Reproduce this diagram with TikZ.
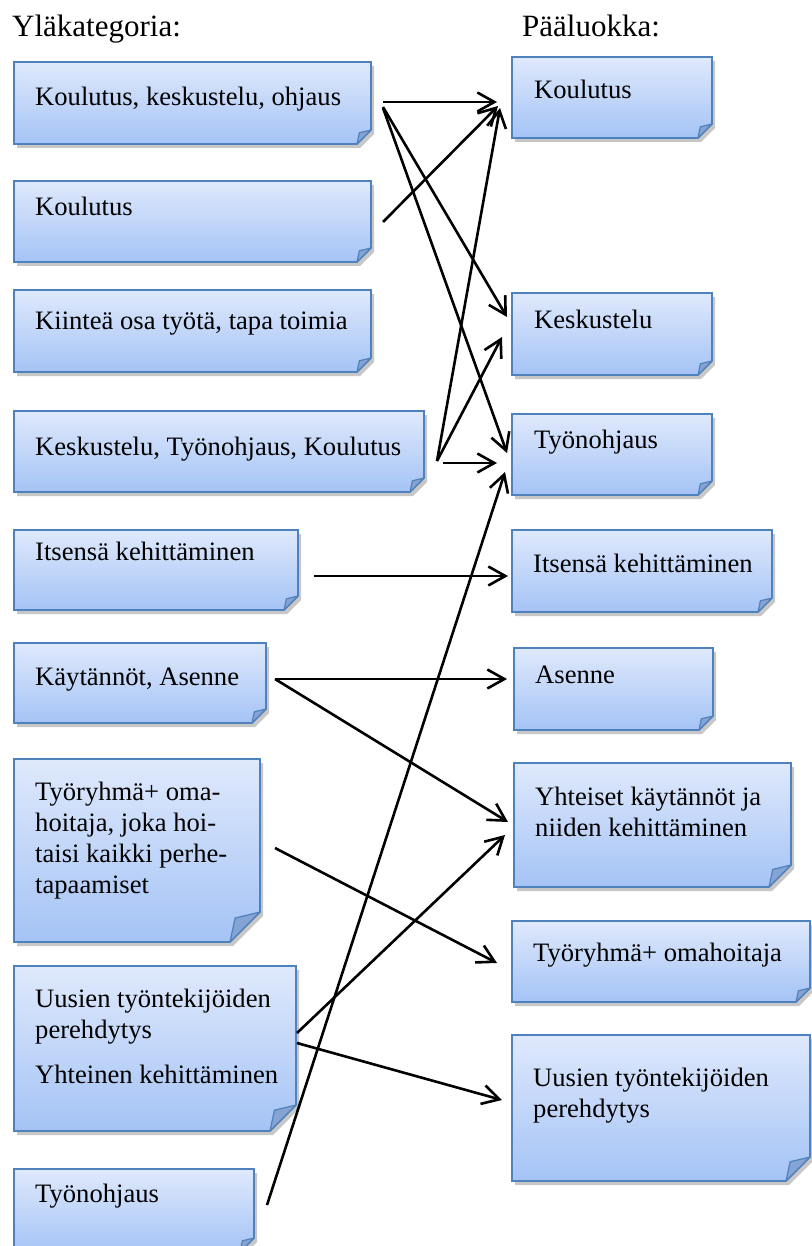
\documentclass[tikz,border=0pt]{standalone}
\usepackage{fontspec}
\setmainfont{Liberation Serif}[Ligatures=TeX]
\usetikzlibrary{arrows.meta,calc}
\definecolor{boxtop}{RGB}{223,233,252}
\definecolor{boxbot}{RGB}{164,195,245}
\definecolor{boxline}{RGB}{79,129,189}
\definecolor{flapc}{RGB}{133,163,211}
\newcommand\bxfont{\fontsize{26.6}{31}\selectfont}
\newcommand\hdfont{\fontsize{31}{35}\selectfont}
\tikzset{
  arr/.style={line width=2.6pt, -{Straight Barb[length=17pt,width=19pt]}},
  area/.style={inner sep=0pt, outer sep=0pt, draw=none},
  lbl/.style={inner sep=0pt, anchor=west, font=\bxfont, text height=17pt, text depth=6pt},
  mlbl/.style={inner sep=0pt, anchor=north west, font=\bxfont, align=left},
  hdr/.style={inner sep=0pt, anchor=west, font=\hdfont, text height=22pt, text depth=7pt},
  notefill/.style={top color=boxtop, bottom color=boxbot, draw=boxline, line width=1.6pt},
  noteshadow/.style={fill=black, opacity=0.22},
  flap/.style={fill=flapc, draw=boxline, line width=1.2pt, line join=round},
}
% name, cx, cy, w, h, fold
\newcommand\notebox[6]{%
  \node[area, minimum width=#4pt, minimum height=#5pt] (#1) at (#2,#3) {};
  \fill[noteshadow] ($(#1.north west)+(3,4)$) -- ($(#1.north east)+(3,4)$)
    -- ($(#1.south east)+(3,4-#6)$) -- ($(#1.south east)+(3-#6,4)$)
    -- ($(#1.south west)+(3,4)$) -- cycle;
  \shadedraw[notefill] (#1.north west) -- (#1.north east)
    -- ($(#1.south east)+(0,-#6)$) -- ($(#1.south east)+(-#6,0)$)
    -- (#1.south west) -- cycle;
  \filldraw[flap] ($(#1.south east)+(0,-#6)$)
    -- ($(#1.south east)+(-0.83*#6,-0.8*#6)$)
    -- ($(#1.south east)+(-#6,0)$) -- cycle;
}
\begin{document}
\begin{tikzpicture}[x=1pt,y=-1pt]
\useasboundingbox (0,0) rectangle (811,1246);
\fill[white] (0,0) rectangle (811,1246);

% headers
\node[hdr] (hL) at (12,29.5) {Yläkategoria:};
\node[hdr] (hR) at (522,29.5) {Pääluokka:};

% left boxes
\notebox{L1}{192.5}{103}{357}{82}{14}
\notebox{L2}{192.5}{221.5}{357}{81}{14}
\notebox{L3}{192.5}{331}{357}{82}{14}
\notebox{L4}{219}{451.5}{410}{81}{14}
\notebox{L5}{156}{570}{284}{80}{14}
\notebox{L6}{140}{683}{252}{80}{14}
\notebox{L7}{137}{850.5}{246}{183}{30}
\notebox{L8}{155}{1048.5}{282}{165}{26}
\notebox{L9}{134}{1210.5}{240}{83}{14}

% right boxes
\notebox{R1}{612}{97.5}{200}{81}{14}
\notebox{R2}{612}{334}{200}{82}{14}
\notebox{R3}{612}{454.5}{200}{81}{14}
\notebox{R4}{642}{571}{260}{82}{14}
\notebox{R5}{613.5}{689}{199}{82}{14}
\notebox{R6}{652.5}{825}{277}{124}{22}
\notebox{R7}{661}{961.5}{298}{81}{14}
\notebox{R8}{661}{1108}{298}{146}{24}

% left texts
\node[lbl] (L1t) at (35,100) {Koulutus, keskustelu, ohjaus};
\node[lbl] (L2t) at (35,210) {Koulutus};
\node[lbl] (L3t) at (35,324) {Kiinteä osa työtä, tapa toimia};
\node[lbl] (L4t) at (35,450) {Keskustelu, Työnohjaus, Koulutus};
\node[lbl] (L5t) at (35,555) {Itsensä kehittäminen};
\node[lbl] (L6t) at (35,680) {Käytännöt, Asenne};
\node[mlbl] (L7t) at (35,782) {Työryhmä+ oma-\\hoitaja, joka hoi-\\taisi kaikki perhe-\\tapaamiset};
\node[mlbl] (L8t) at (35,989) {Uusien työntekijöiden\\perehdytys\\[14pt]Yhteinen kehittäminen};
\node[lbl] (L9t) at (35,1197) {Työnohjaus};

% right texts
\node[lbl] (R1t) at (534,93) {Koulutus};
\node[lbl] (R2t) at (534,323) {Keskustelu};
\node[lbl] (R3t) at (534,443) {Työnohjaus};
\node[lbl] (R4t) at (533,567) {Itsensä kehittäminen};
\node[lbl] (R5t) at (535,678) {Asenne};
\node[mlbl] (R6t) at (535,787) {Yhteiset käytännöt ja\\niiden kehittäminen};
\node[lbl] (R7t) at (533,956) {Työryhmä+ omahoitaja};
\node[mlbl] (R8t) at (533,1068) {Uusien työntekijöiden\\perehdytys};

% connectors
\draw[arr] ($(L1.north east)+(12,40)$) -- ($(R1.north west)+(-15,45)$);
\draw[arr] ($(L1.north east)+(12,45)$) -- ($(R2.north west)+(-5,24)$);
\draw[arr] ($(L1.north east)+(12,46)$) -- ($(R3.north west)+(-5,39)$);
\draw[arr] ($(L2.north east)+(12,41)$) -- ($(R1.north west)+(-14,49)$);
\draw[arr] ($(L4.north east)+(13,50)$) -- ($(R1.north west)+(-12,51)$);
\draw[arr] ($(L4.north east)+(13,50)$) -- ($(R2.north west)+(-10,44)$);
\draw[arr] ($(L4.north east)+(19,52)$) -- ($(R3.north west)+(-15,49)$);
\draw[arr] ($(L5.north east)+(16,46)$) -- ($(R4.north west)+(-4,46)$);
\draw[arr] ($(L6.north east)+(9,36)$) -- ($(R5.north west)+(-7,31)$);
\draw[arr] ($(L6.north east)+(9,36)$) -- ($(R6.north west)+(-6,59)$);
\draw[arr] ($(L7.north east)+(15,89)$) -- ($(R7.north west)+(-15,42)$);
\draw[arr] ($(L8.north east)+(1,67)$) -- ($(R6.north west)+(-9,72)$);
\draw[arr] ($(L8.north east)+(1,77)$) -- ($(R8.north west)+(-10,65)$);
\draw[arr] ($(L9.north east)+(13,36)$) -- ($(R3.north west)+(-7,58)$);
\end{tikzpicture}
\end{document}
